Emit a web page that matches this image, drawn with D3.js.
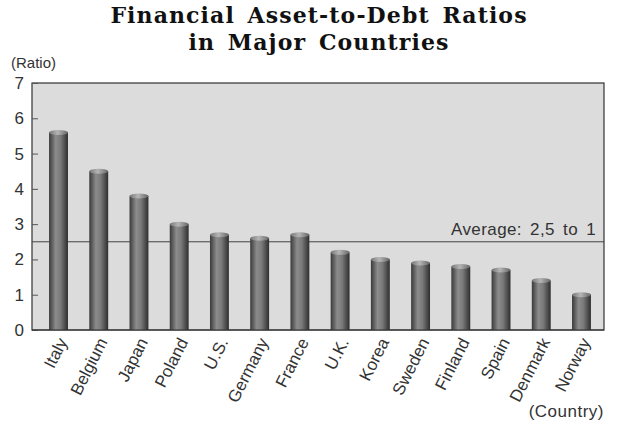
<!DOCTYPE html>
<html>
<head>
<meta charset="utf-8">
<script src="https://cdn.jsdelivr.net/npm/d3@7"></script>
<style>
  body { margin: 0; background: #fff; }
  svg { display: block; }
  .tick text { font-family: 'Liberation Sans', Arial, sans-serif; }
</style>
</head>
<body>
<svg id="chart" width="617" height="424"></svg>
<script>
var countries = ['Italy', 'Belgium', 'Japan', 'Poland', 'U.S.', 'Germany', 'France',
    'U.K.', 'Korea', 'Sweden', 'Finland', 'Spain', 'Denmark', 'Norway']
var ratios = [5.6, 4.5, 3.8, 3.0, 2.7, 2.6, 2.7, 2.2, 2.0, 1.9, 1.8, 1.7, 1.4, 1.0]
var yTicks = [0, 1, 2, 3, 4, 5, 6, 7]
var average = 2.5

var svg = d3.select('#chart')
var plot = { left: 32, right: 604, top: 83, bottom: 330 }
var sans = "'Liberation Sans', Arial, sans-serif"
var serif = "'DejaVu Serif', 'Liberation Serif', serif"

var x = d3.scaleBand()
    .domain(countries)
    .range([38.4, 601.6])
    .paddingInner(0.53)
    .paddingOuter(0.265)

var y = d3.scaleLinear()
    .domain([0, 7])
    .range([plot.bottom, plot.top])

// bar gradient (cylinder look)
var defs = svg.append('defs')
var grad = defs.append('linearGradient').attr('id', 'barGrad')
    .attr('x1', '0%').attr('x2', '100%').attr('y1', '0%').attr('y2', '0%')
grad.append('stop').attr('offset', '0%').attr('stop-color', '#3a3a3a')
grad.append('stop').attr('offset', '35%').attr('stop-color', '#8c8c8c')
grad.append('stop').attr('offset', '60%').attr('stop-color', '#7a7a7a')
grad.append('stop').attr('offset', '100%').attr('stop-color', '#2e2e2e')
var capGrad = defs.append('linearGradient').attr('id', 'capGrad')
    .attr('x1', '0%').attr('x2', '100%')
capGrad.append('stop').attr('offset', '0%').attr('stop-color', '#777')
capGrad.append('stop').attr('offset', '45%').attr('stop-color', '#b5b5b5')
capGrad.append('stop').attr('offset', '100%').attr('stop-color', '#666')

// title
var titleLines = ['Financial Asset-to-Debt Ratios', 'in Major Countries']
svg.append('g').selectAll('text')
    .data(titleLines)
    .enter()
    .append('text')
    .attr('x', 319)
    .attr('y', function(d, i) { return 23 + i * 27 })
    .attr('text-anchor', 'middle')
    .style('font-family', serif)
    .style('font-weight', 'bold')
    .style('font-size', '22px')
    .style('letter-spacing', '1.1px')
    .style('word-spacing', '4px')
    .style('fill', '#111')
    .text(function(d) { return d })

// plot background
svg.append('rect')
    .attr('x', plot.left).attr('y', plot.top)
    .attr('width', plot.right - plot.left)
    .attr('height', plot.bottom - plot.top)
    .style('fill', '#dcdcdc')
    .style('stroke', '#333')
    .style('stroke-width', 1.2)

// y axis
var yAxis = d3.axisLeft(y).tickValues(yTicks).tickFormat(d3.format('d'))
    .tickSize(-6).tickPadding(8)
var gy = svg.append('g')
    .attr('transform', 'translate(' + plot.left + ',0)')
    .call(yAxis)
gy.select('.domain').remove()
gy.selectAll('.tick line').style('stroke', '#555')
gy.selectAll('.tick text')
    .style('font-size', '17px')
    .style('fill', '#333')

// average line
svg.append('line')
    .attr('x1', plot.left).attr('x2', plot.right)
    .attr('y1', y(average)).attr('y2', y(average))
    .style('stroke', '#444')
    .style('stroke-width', 1)

// bars
var bars = svg.append('g').selectAll('g.bar')
    .data(countries)
    .enter()
    .append('g')
    .attr('class', 'bar')
bars.append('rect')
    .attr('x', function(d) { return x(d) })
    .attr('y', function(d, i) { return y(ratios[i]) })
    .attr('width', x.bandwidth())
    .attr('height', function(d, i) { return plot.bottom - y(ratios[i]) })
    .style('fill', 'url(#barGrad)')
bars.append('ellipse')
    .attr('cx', function(d) { return x(d) + x.bandwidth() / 2 })
    .attr('cy', function(d, i) { return y(ratios[i]) })
    .attr('rx', x.bandwidth() / 2)
    .attr('ry', 2.5)
    .style('fill', 'url(#capGrad)')

// redraw bottom border on top of bars
svg.append('line')
    .attr('x1', plot.left).attr('x2', plot.right)
    .attr('y1', plot.bottom).attr('y2', plot.bottom)
    .style('stroke', '#333')
    .style('stroke-width', 1.2)

svg.append('text')
    .attr('x', 596).attr('y', 235)
    .attr('text-anchor', 'end')
    .style('font-family', sans)
    .style('font-size', '17px')
    .style('letter-spacing', '0.4px')
    .style('word-spacing', '3px')
    .style('fill', '#333')
    .text('Average: 2,5 to 1')

// x labels
svg.append('g').selectAll('text.xlab')
    .data(countries)
    .enter()
    .append('text')
    .attr('class', 'xlab')
    .attr('transform', function(d) {
        return 'translate(' + (x(d) + x.bandwidth() / 2 + 4) + ',' + (plot.bottom + 9) + ') rotate(-63)'
    })
    .attr('text-anchor', 'end')
    .attr('dy', '0.35em')
    .style('font-family', sans)
    .style('font-size', '17px')
    .style('fill', '#333')
    .text(function(d) { return d })

// axis titles
svg.append('text')
    .attr('x', 11).attr('y', 68)
    .style('font-family', sans)
    .style('font-size', '15px')
    .style('fill', '#333')
    .text('(Ratio)')
svg.append('text')
    .attr('x', 604).attr('y', 417)
    .attr('text-anchor', 'end')
    .style('font-family', sans)
    .style('font-size', '17px')
    .style('letter-spacing', '0.5px')
    .style('fill', '#333')
    .text('(Country)')
</script>
</body>
</html>
